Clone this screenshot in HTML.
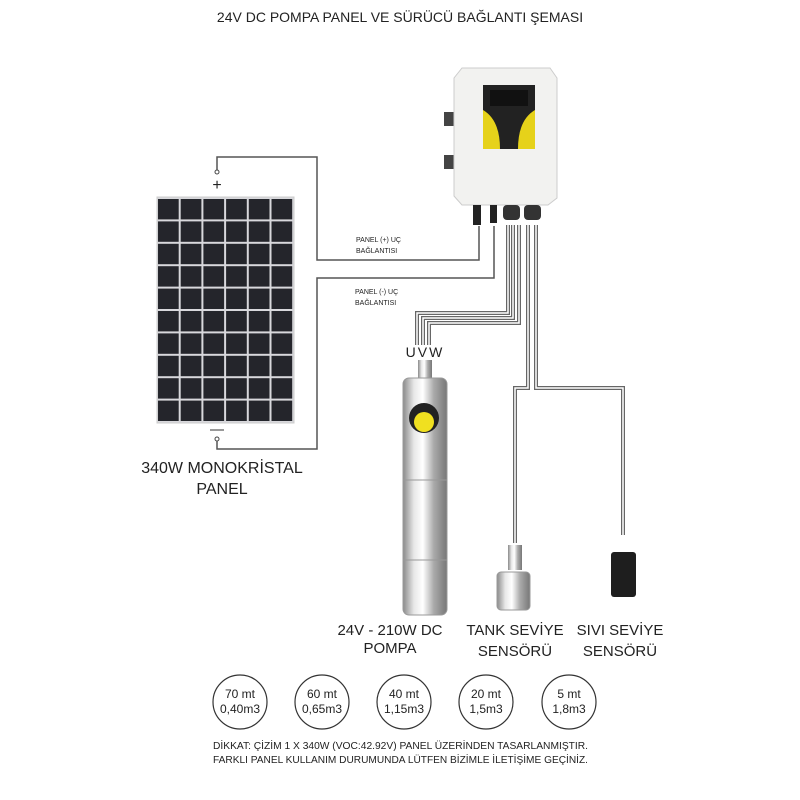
<!DOCTYPE html>
<html><head><meta charset="utf-8"><style>
body{margin:0;background:#fff;width:800px;height:800px;overflow:hidden}
svg{display:block}
text{font-family:"Liberation Sans",sans-serif;fill:#222}
</style></head><body>
<svg width="800" height="800" viewBox="0 0 800 800">
<defs>
<linearGradient id="steel" x1="0" x2="1">
<stop offset="0" stop-color="#8a8a8a"/><stop offset="0.25" stop-color="#e8e8e8"/><stop offset="0.45" stop-color="#fff"/><stop offset="0.7" stop-color="#aaa"/><stop offset="1" stop-color="#777"/>
</linearGradient>
<pattern id="cells" x="157" y="198" width="22.7" height="22.4" patternUnits="userSpaceOnUse">
<rect width="22.7" height="22.4" fill="#d8d8dc"/><rect x="1" y="1" width="20.7" height="20.4" fill="#24252b"/>
</pattern>
</defs>
<text x="400" y="22" font-size="14" text-anchor="middle">24V DC POMPA PANEL VE SÜRÜCÜ BAĞLANTI ŞEMASI</text>

<rect x="157" y="197" width="137" height="226" fill="url(#cells)" stroke="#ccc"/>
<text x="217" y="190" font-size="16" text-anchor="middle">+</text>
<circle cx="217" cy="172" r="2" fill="#fff" stroke="#444"/>
<line x1="210" y1="430" x2="224" y2="430" stroke="#333"/>
<circle cx="217" cy="439" r="2" fill="#fff" stroke="#444"/>
<g fill="none" stroke="#555" stroke-width="1.5">
<polyline points="217,170 217,157 317,157 317,260 479,260 479,226"/>
<polyline points="217,441 217,449 317,449 317,278 494,278 494,226"/>
</g>
<text x="356" y="242" font-size="7">PANEL (+) UÇ</text>
<text x="356" y="253" font-size="7">BAĞLANTISI</text>
<text x="355" y="294" font-size="7">PANEL (-) UÇ</text>
<text x="355" y="305" font-size="7">BAĞLANTISI</text>

<g fill="none" stroke="#666" stroke-width="4">
<polyline points="508,225 508,313 417,313 417,345"/>
<polyline points="513,225 513,318 423,318 423,345"/>
<polyline points="519,225 519,323 429,323 429,345"/>
<polyline points="528,225 528,388 515,388 515,543"/>
<polyline points="536,225 536,388 623,388 623,535"/>
</g>
<g fill="none" stroke="#fff" stroke-width="1.5">
<polyline points="508,225 508,313 417,313 417,345"/>
<polyline points="513,225 513,318 423,318 423,345"/>
<polyline points="519,225 519,323 429,323 429,345"/>
<polyline points="528,225 528,388 515,388 515,543"/>
<polyline points="536,225 536,388 623,388 623,535"/>
</g>
<text x="425" y="357" font-size="14" text-anchor="middle" letter-spacing="2">UVW</text>

<rect x="444" y="112" width="10" height="14" fill="#444"/>
<rect x="444" y="155" width="10" height="14" fill="#444"/>
<path d="M462 68 L550 68 L557 78 L557 198 L548 205 L462 205 L454 196 L454 78 Z" fill="#f2f2f0" stroke="#ccc"/>
<rect x="483" y="85" width="52" height="64" fill="#222"/>
<path d="M483 110 Q500 120 500 149 L483 149 Z" fill="#e6d21a"/>
<path d="M535 110 Q518 120 518 149 L535 149 Z" fill="#e6d21a"/>
<rect x="490" y="90" width="38" height="16" fill="#111"/>
<rect x="473" y="205" width="8" height="20" fill="#222"/>
<rect x="490" y="205" width="7" height="18" fill="#222"/>
<rect x="503" y="205" width="17" height="15" rx="4" fill="#333"/>
<rect x="524" y="205" width="17" height="15" rx="4" fill="#333"/>

<rect x="418" y="360" width="14" height="20" fill="url(#steel)"/>
<rect x="403" y="378" width="44" height="237" rx="6" fill="url(#steel)" stroke="#999"/>
<circle cx="424" cy="418" r="15" fill="#222"/>
<circle cx="424" cy="422" r="10" fill="#f0e020"/>
<line x1="403" y1="480" x2="447" y2="480" stroke="#999"/>
<line x1="403" y1="560" x2="447" y2="560" stroke="#999"/>

<rect x="508" y="545" width="14" height="25" fill="url(#steel)"/>
<rect x="497" y="572" width="33" height="38" rx="4" fill="url(#steel)" stroke="#999"/>
<rect x="611" y="552" width="25" height="45" rx="3" fill="#1e1e1e"/>

<text x="222" y="473" font-size="16" text-anchor="middle">340W MONOKRİSTAL</text>
<text x="222" y="494" font-size="16" text-anchor="middle">PANEL</text>
<text x="390" y="635" font-size="15" text-anchor="middle">24V - 210W DC</text>
<text x="390" y="653" font-size="15" text-anchor="middle">POMPA</text>
<text x="515" y="635" font-size="15" text-anchor="middle">TANK SEVİYE</text>
<text x="515" y="656" font-size="15" text-anchor="middle">SENSÖRÜ</text>
<text x="620" y="635" font-size="15" text-anchor="middle">SIVI SEVİYE</text>
<text x="620" y="656" font-size="15" text-anchor="middle">SENSÖRÜ</text>

<g fill="none" stroke="#333" stroke-width="1.2">
<circle cx="240" cy="702" r="27"/><circle cx="322" cy="702" r="27"/><circle cx="404" cy="702" r="27"/><circle cx="486" cy="702" r="27"/><circle cx="569" cy="702" r="27"/>
</g>
<g font-size="12" text-anchor="middle">
<text x="240" y="698">70 mt</text><text x="240" y="713">0,40m3</text>
<text x="322" y="698">60 mt</text><text x="322" y="713">0,65m3</text>
<text x="404" y="698">40 mt</text><text x="404" y="713">1,15m3</text>
<text x="486" y="698">20 mt</text><text x="486" y="713">1,5m3</text>
<text x="569" y="698">5 mt</text><text x="569" y="713">1,8m3</text>
</g>
<text x="213" y="749" font-size="9.8" textLength="375" lengthAdjust="spacingAndGlyphs">DİKKAT: ÇİZİM 1 X 340W (VOC:42.92V) PANEL ÜZERİNDEN  TASARLANMIŞTIR.</text>
<text x="213" y="763" font-size="9.8" textLength="375" lengthAdjust="spacingAndGlyphs">FARKLI PANEL KULLANIM DURUMUNDA LÜTFEN BİZİMLE İLETİŞİME GEÇİNİZ.</text>
</svg>
</body></html>
